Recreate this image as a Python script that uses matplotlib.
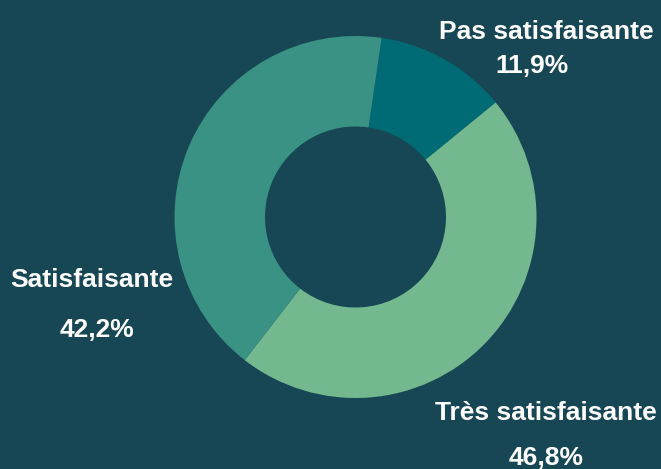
import matplotlib
matplotlib.use("Agg")
import matplotlib.pyplot as plt

categories = ["Pas satisfaisante", "Très satisfaisante", "Satisfaisante"]
values = [11.9, 46.8, 42.2]
value_labels = ["11,9%", "46,8%", "42,2%"]
colors = ["#006b75", "#74b88f", "#3a9284"]
bg = "#174755"

W, H = 661, 469
fig = plt.figure(figsize=(W / 100, H / 100), dpi=100, facecolor=bg)
ax = fig.add_axes([0, 0, 1, 1])
ax.set_facecolor(bg)

cx, cy, R = 355.5, H - 217, 181
ax.pie(values, colors=colors, startangle=81.7, counterclock=False,
       center=(cx, cy), radius=R,
       wedgeprops=dict(width=R * 0.5, linewidth=0))
ax.set_xlim(0, W)
ax.set_ylim(0, H)
ax.set_aspect("equal")
ax.axis("off")

font = dict(family=["Liberation Sans", "DejaVu Sans"], fontsize=19,
            fontweight="bold", color="white", ha="center", va="baseline")
# Pas satisfaisante
ax.text(546.5, H - 38.5, categories[0], **font)
ax.text(532, H - 72.5, value_labels[0], **font)
# Très satisfaisante
ax.text(546, H - 420, categories[1], **font)
ax.text(546, H - 465, value_labels[1], **font)
# Satisfaisante
ax.text(92, H - 287, categories[2], **font)
ax.text(97, H - 337, value_labels[2], **font)

fig.savefig("out.png", dpi=100, facecolor=bg)
